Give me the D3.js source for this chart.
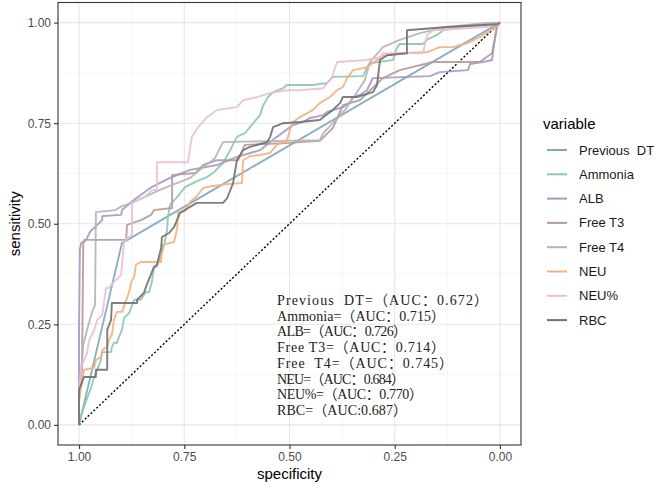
<!DOCTYPE html>
<html>
<head>
<meta charset="utf-8">
<script src="https://cdn.jsdelivr.net/npm/d3@7/dist/d3.min.js"></script>
<style>
  body { margin: 0; background: #fff; }
  text { white-space: pre; }
</style>
</head>
<body>
<script>
// ---- data (specificity, sensitivity) ----
const specTicks = [1, 0.75, 0.5, 0.25, 0];
const sensTicks = [0, 0.25, 0.5, 0.75, 1];
const variables = ['Previous  DT', 'Ammonia', 'ALB', 'Free T3', 'Free T4', 'NEU', 'NEU%', 'RBC'];
const aucLabels = [
  'Previous  DT=（AUC：0.672）',
  'Ammonia=（AUC：0.715）',
  'ALB=（AUC：0.726）',
  'Free T3=（AUC：0.714）',
  'Free  T4=（AUC：0.745）',
  'NEU=（AUC：0.684）',
  'NEU%=（AUC：0.770）',
  'RBC=（AUC:0.687）'
];

const rocPrevDT = [[1, 0], [0.898, 0.452], [0, 1]];

const rocAmmonia = [[1,0],[0.995,0.025],[0.988,0.045],[0.971,0.094],[0.964,0.119],[0.957,0.137],[0.948,0.161],
  [0.945,0.181],[0.924,0.181],[0.922,0.194],[0.917,0.204],[0.910,0.204],[0.905,0.219],[0.898,0.236],[0.893,0.266],
  [0.881,0.278],[0.874,0.298],[0.869,0.311],[0.853,0.311],[0.846,0.323],[0.841,0.330],[0.834,0.330],[0.827,0.355],
  [0.822,0.390],[0.815,0.393],[0.805,0.422],[0.798,0.447],[0.791,0.484],[0.789,0.514],[0.784,0.547],[0.767,0.566],
  [0.748,0.591],[0.720,0.606],[0.696,0.616],[0.682,0.626],[0.658,0.651],[0.641,0.683],[0.625,0.716],[0.606,0.725],
  [0.594,0.740],[0.570,0.770],[0.563,0.793],[0.551,0.815],[0.539,0.827],[0.515,0.837],[0.506,0.845],[0.444,0.845],
  [0.411,0.850],[0.404,0.857],[0.397,0.865],[0.325,0.867],[0.316,0.889],[0.309,0.899],[0.254,0.907],[0.245,0.937],
  [0.238,0.947],[0.183,0.947],[0.171,0.959],[0.147,0.971],[0.135,0.981],[0.095,0.989],[0.024,0.996],[0,1]];

const rocALB = [[1,0],[1,0.236],[0.998,0.435],[0.995,0.452],[0.983,0.460],[0.974,0.480],[0.960,0.494],[0.945,0.509],
  [0.945,0.519],[0.900,0.522],[0.898,0.534],[0.872,0.557],[0.831,0.589],[0.784,0.614],[0.736,0.634],[0.672,0.646],
  [0.625,0.666],[0.570,0.683],[0.530,0.716],[0.492,0.745],[0.468,0.753],[0.451,0.763],[0.420,0.770],[0.411,0.778],
  [0.373,0.790],[0.356,0.802],[0.349,0.815],[0.333,0.820],[0.316,0.832],[0.302,0.862],[0.166,0.867],[0.143,0.877],
  [0.076,0.882],[0.071,0.897],[0.031,0.904],[0.019,0.907],[0.014,0.944],[0.007,0.994],[0,1]];

const rocFreeT3 = [[1,0],[1,0.062],[0.993,0.137],[0.990,0.447],[0.988,0.460],[0.888,0.460],[0.886,0.497],[0.853,0.509],
  [0.829,0.522],[0.822,0.534],[0.779,0.539],[0.779,0.621],[0.724,0.626],[0.705,0.646],[0.672,0.658],[0.622,0.658],
  [0.606,0.696],[0.499,0.701],[0.428,0.706],[0.397,0.738],[0.373,0.795],[0.333,0.807],[0.278,0.862],[0.238,0.882],
  [0.159,0.902],[0.048,0.902],[0.019,0.924],[0.007,0.989],[0,1]];

const rocFreeT4 = [[1,0],[1,0.075],[0.995,0.137],[0.990,0.199],[0.981,0.236],[0.969,0.281],[0.962,0.298],[0.960,0.529],
  [0.914,0.534],[0.898,0.544],[0.874,0.552],[0.808,0.584],[0.736,0.614],[0.713,0.634],[0.677,0.663],[0.658,0.703],
  [0.428,0.708],[0.420,0.725],[0.397,0.750],[0.368,0.783],[0.344,0.820],[0.321,0.857],[0.309,0.902],[0.278,0.939],
  [0.238,0.957],[0.190,0.974],[0.126,0.989],[0.031,0.999],[0,1]];

const rocNEU = [[1,0],[1,0.062],[0.995,0.094],[0.988,0.137],[0.964,0.142],[0.960,0.161],[0.948,0.169],[0.945,0.186],
  [0.933,0.194],[0.929,0.211],[0.922,0.224],[0.917,0.261],[0.910,0.281],[0.898,0.281],[0.881,0.330],[0.876,0.355],
  [0.869,0.368],[0.865,0.398],[0.853,0.405],[0.805,0.405],[0.803,0.447],[0.774,0.455],[0.767,0.489],[0.765,0.527],
  [0.748,0.532],[0.736,0.554],[0.720,0.569],[0.705,0.589],[0.682,0.594],[0.641,0.599],[0.613,0.601],[0.610,0.658],
  [0.594,0.668],[0.570,0.671],[0.546,0.676],[0.530,0.696],[0.506,0.708],[0.499,0.733],[0.492,0.753],[0.475,0.765],
  [0.444,0.783],[0.428,0.800],[0.404,0.815],[0.387,0.832],[0.373,0.840],[0.363,0.862],[0.349,0.882],[0.316,0.889],
  [0.292,0.907],[0.278,0.917],[0.238,0.924],[0.173,0.927],[0.159,0.932],[0.143,0.939],[0.112,0.939],[0.078,0.949],
  [0.048,0.964],[0.007,0.991],[0,1]];

const rocNEUpct = [[1,0],[1,0.075],[0.995,0.144],[0.981,0.179],[0.976,0.211],[0.964,0.236],[0.957,0.261],[0.945,0.273],
  [0.936,0.340],[0.929,0.340],[0.924,0.348],[0.900,0.373],[0.893,0.455],[0.881,0.467],[0.874,0.472],[0.874,0.552],
  [0.862,0.559],[0.843,0.566],[0.827,0.584],[0.815,0.584],[0.815,0.653],[0.741,0.653],[0.732,0.716],[0.717,0.740],
  [0.696,0.765],[0.672,0.783],[0.625,0.790],[0.610,0.807],[0.577,0.815],[0.546,0.825],[0.506,0.832],[0.475,0.832],
  [0.420,0.837],[0.399,0.865],[0.387,0.902],[0.316,0.907],[0.285,0.914],[0.278,0.924],[0.183,0.924],[0.173,0.969],
  [0.159,0.981],[0.078,0.986],[0.031,0.989],[0,1]];

const rocRBC = [[1,0],[1,0.087],[0.988,0.119],[0.960,0.119],[0.960,0.137],[0.933,0.137],[0.933,0.236],[0.924,0.261],
  [0.922,0.303],[0.862,0.303],[0.862,0.311],[0.846,0.328],[0.841,0.343],[0.822,0.393],[0.815,0.398],[0.805,0.440],
  [0.803,0.467],[0.786,0.477],[0.774,0.492],[0.760,0.527],[0.736,0.542],[0.720,0.552],[0.658,0.552],[0.648,0.564],
  [0.634,0.601],[0.625,0.658],[0.610,0.683],[0.594,0.691],[0.553,0.703],[0.546,0.716],[0.539,0.740],[0.515,0.750],
  [0.475,0.753],[0.428,0.758],[0.420,0.765],[0.397,0.783],[0.380,0.800],[0.373,0.815],[0.340,0.815],[0.302,0.827],
  [0.292,0.845],[0.285,0.907],[0.268,0.919],[0.221,0.924],[0.221,0.981],[0.126,0.989],[0.007,0.996],[0,1]];

const curves = [rocPrevDT, rocAmmonia, rocALB, rocFreeT3, rocFreeT4, rocNEU, rocNEUpct, rocRBC];
const colors = ['#7fa6ba', '#8cc7b0', '#a497c8', '#b39a95', '#b4b4b4', '#f2b07e', '#e8bfd8', '#707070'];
// widths of the pasted AUC text lines in the picture
const aucWidths = [211, 168, 130, 168, 176, 128, 146, 130];

// ---- layout ----
const width = 662;
const height = 487;
const panel = { left: 58, top: 2.5, right: 521, bottom: 445 };

const svg = d3.select('body').append('svg')
  .attr('width', width)
  .attr('height', height)
  .style('font-family', 'Liberation Sans, Arial, sans-serif');

const xScale = d3.scaleLinear().domain([1.05, -0.05]).range([panel.left, panel.right]);
const yScale = d3.scaleLinear().domain([-0.05, 1.05]).range([panel.bottom, panel.top]);

// grid
const minor = [0.125, 0.375, 0.625, 0.875];
const grid = svg.append('g').classed('grid', true);
grid.selectAll('.vmin').data(minor).enter().append('line')
  .attr('x1', d => xScale(d)).attr('x2', d => xScale(d))
  .attr('y1', panel.top).attr('y2', panel.bottom)
  .attr('stroke', '#f0f0f0').attr('stroke-width', 0.6);
grid.selectAll('.hmin').data(minor).enter().append('line')
  .attr('y1', d => yScale(d)).attr('y2', d => yScale(d))
  .attr('x1', panel.left).attr('x2', panel.right)
  .attr('stroke', '#f0f0f0').attr('stroke-width', 0.6);
grid.selectAll('.vmaj').data(specTicks).enter().append('line')
  .attr('x1', d => xScale(d)).attr('x2', d => xScale(d))
  .attr('y1', panel.top).attr('y2', panel.bottom)
  .attr('stroke', '#e6e6e6').attr('stroke-width', 1.1);
grid.selectAll('.hmaj').data(sensTicks).enter().append('line')
  .attr('y1', d => yScale(d)).attr('y2', d => yScale(d))
  .attr('x1', panel.left).attr('x2', panel.right)
  .attr('stroke', '#e6e6e6').attr('stroke-width', 1.1);

// chance diagonal
svg.append('line')
  .attr('x1', xScale(1)).attr('y1', yScale(0))
  .attr('x2', xScale(0)).attr('y2', yScale(1))
  .attr('stroke', '#000').attr('stroke-width', 1.4)
  .attr('stroke-dasharray', '2,2');

// ROC curves
const line = d3.line().x(d => xScale(d[0])).y(d => yScale(d[1]));
svg.append('g').classed('curves', true)
  .selectAll('path')
  .data(curves)
  .enter().append('path')
  .attr('d', line)
  .attr('fill', 'none')
  .attr('stroke', (d, i) => colors[i])
  .attr('stroke-width', 1.9)
  .attr('stroke-linejoin', 'round')
  .attr('opacity', 0.9);

// panel border
svg.append('rect')
  .attr('x', panel.left).attr('y', panel.top)
  .attr('width', panel.right - panel.left).attr('height', panel.bottom - panel.top)
  .attr('fill', 'none').attr('stroke', '#333').attr('stroke-width', 1.1);

// axes
const xAxis = d3.axisBottom(xScale).tickValues(specTicks).tickFormat(d3.format('.2f')).tickSize(4).tickPadding(3);
const yAxis = d3.axisLeft(yScale).tickValues(sensTicks).tickFormat(d3.format('.2f')).tickSize(4).tickPadding(3);

function styleAxis(g) {
  g.select('.domain').remove();
  g.selectAll('.tick line').attr('stroke', '#333').attr('stroke-width', 1.1);
  g.selectAll('.tick text').attr('fill', '#4d4d4d').style('font-size', '12px')
    .style('font-family', 'Liberation Sans, Arial, sans-serif');
}

svg.append('g').attr('transform', `translate(0,${panel.bottom})`).call(xAxis).call(styleAxis);
svg.append('g').attr('transform', `translate(${panel.left},0)`).call(yAxis).call(styleAxis);

svg.append('text')
  .attr('x', (panel.left + panel.right) / 2).attr('y', 479)
  .attr('text-anchor', 'middle').attr('font-size', 15).attr('fill', '#000')
  .text('specificity');

svg.append('text')
  .attr('transform', `translate(20,${(panel.top + panel.bottom) / 2}) rotate(-90)`)
  .attr('text-anchor', 'middle').attr('font-size', 15).attr('fill', '#000')
  .text('sensitivity');

// AUC annotation
svg.append('g').classed('auc', true)
  .selectAll('text')
  .data(aucLabels)
  .enter().append('text')
  .attr('x', 277)
  .attr('y', (d, i) => 305 + i * 15.7)
  .attr('font-size', 14)
  .attr('fill', '#222')
  .attr('textLength', (d, i) => aucWidths[i])
  .attr('lengthAdjust', 'spacing')
  .style('font-family', "'Liberation Serif', 'Noto Sans CJK SC', serif")
  .text(d => d);

// legend
const legend = svg.append('g').classed('legend', true);
legend.append('text')
  .attr('x', 543).attr('y', 129)
  .attr('font-size', 15).attr('fill', '#000')
  .text('variable');

const item = legend.selectAll('.item')
  .data(variables)
  .enter().append('g')
  .attr('transform', (d, i) => `translate(0,${150 + i * 24.3})`);
item.append('line')
  .attr('x1', 547).attr('x2', 567)
  .attr('stroke', (d, i) => colors[i]).attr('stroke-width', 2);
item.append('text')
  .attr('x', 579).attr('dy', '0.35em')
  .attr('font-size', 13).attr('fill', '#1a1a1a')
  .text(d => d);
</script>
</body>
</html>
